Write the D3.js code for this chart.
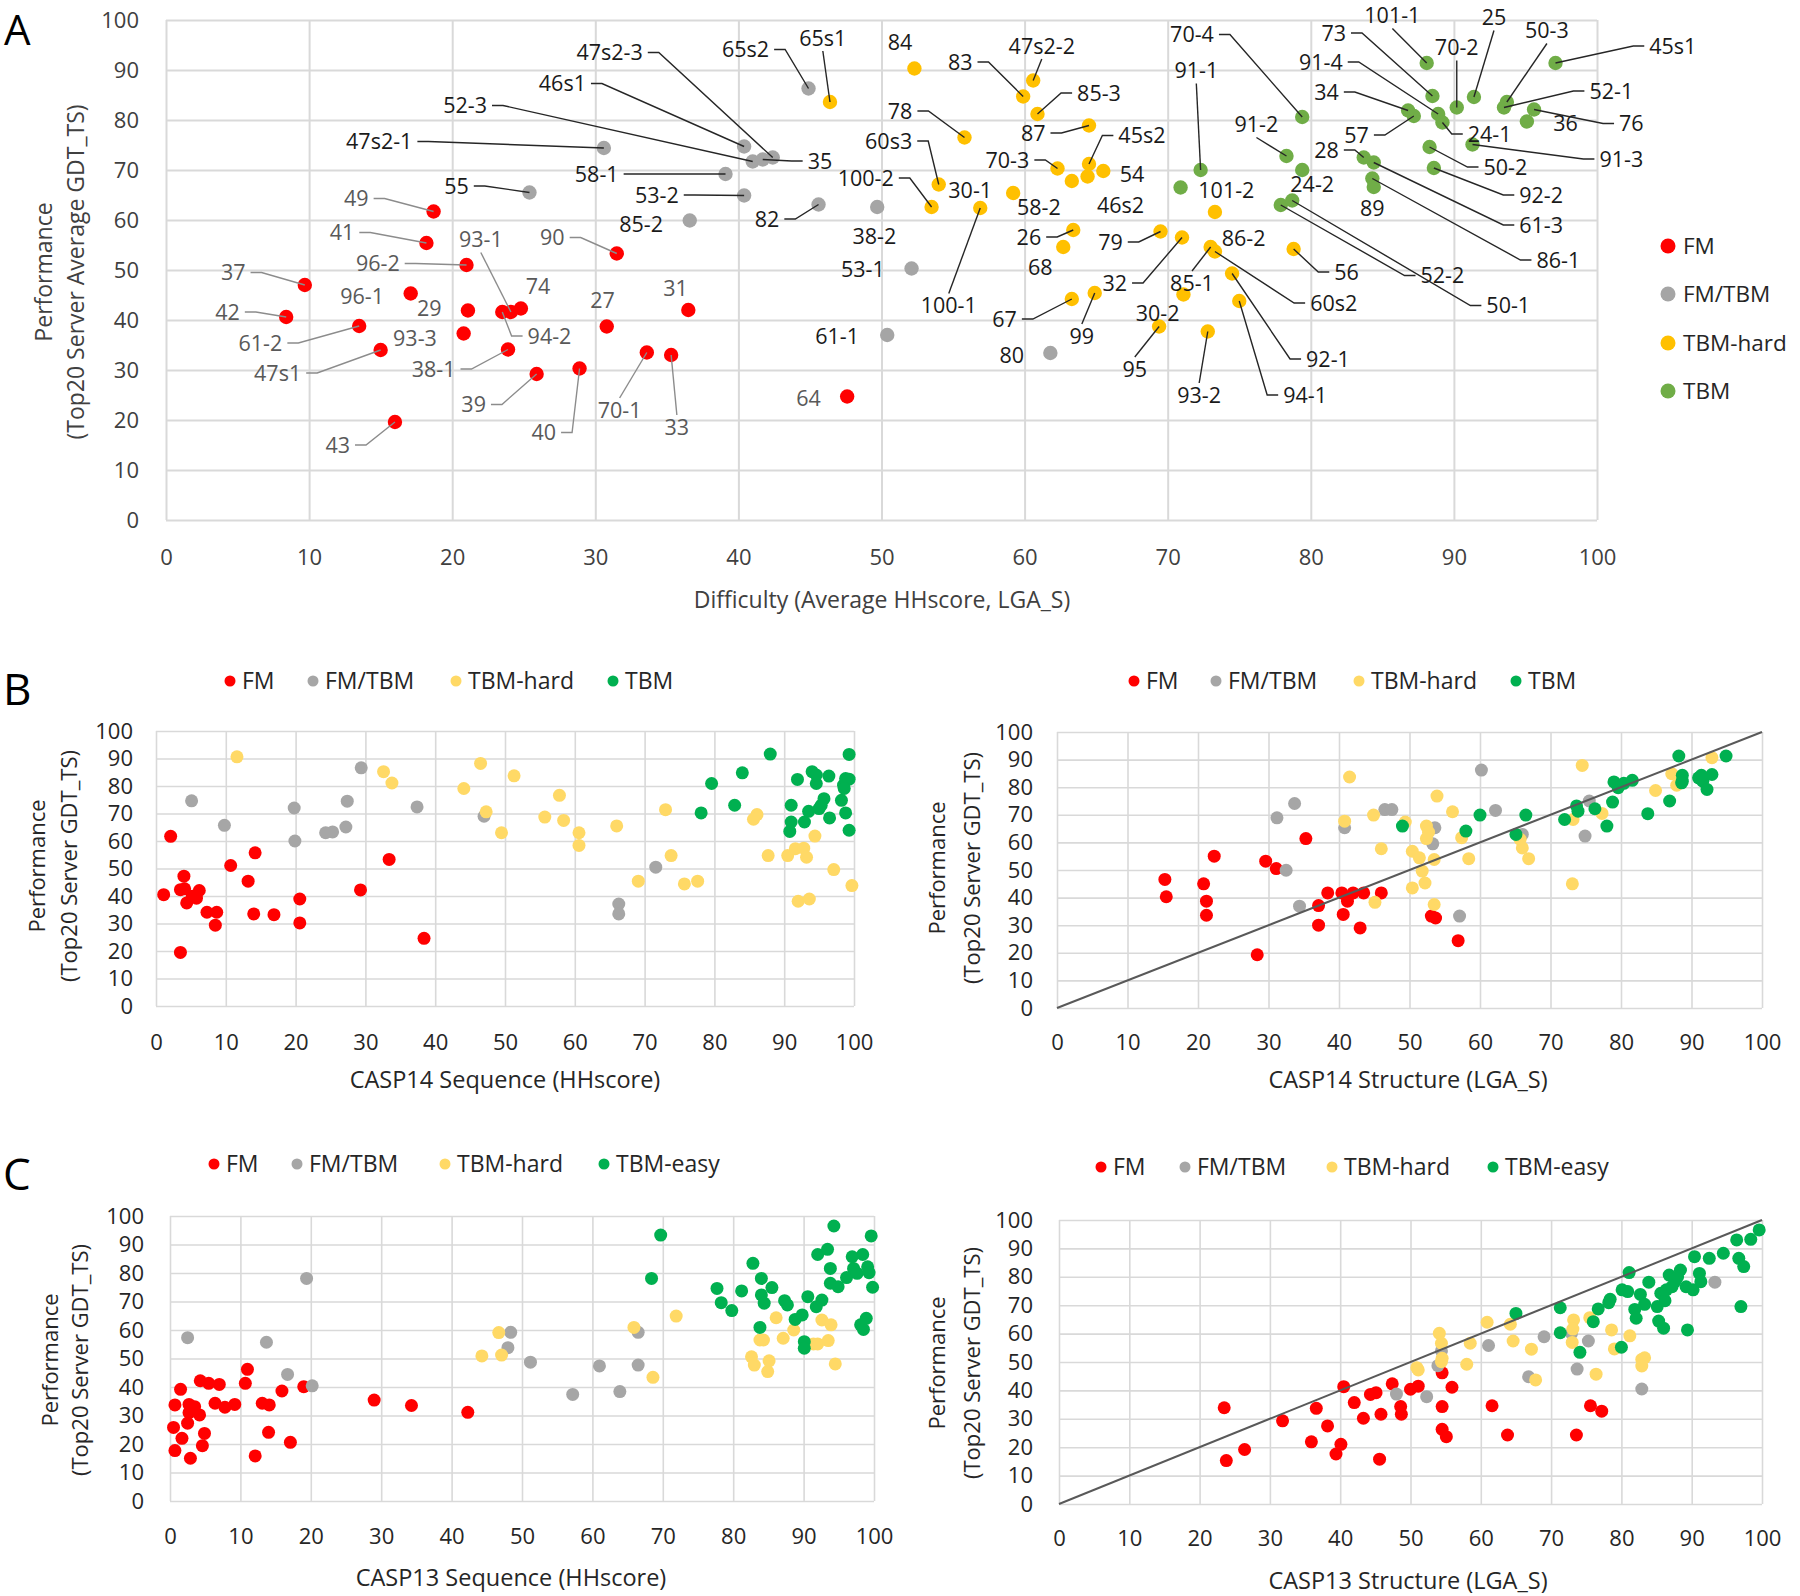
<!DOCTYPE html>
<html><head><meta charset="utf-8">
<script src="https://cdn.jsdelivr.net/npm/d3@7"></script>
<style>body{margin:0;background:#fff}svg{display:block}text{font-family:'Open Sans',sans-serif}</style>
</head><body>
<svg id="c" width="1800" height="1596"></svg>
<script>
// ---------- Panel A data ----------
const aNames = ["49","41","96-2","37","96-1","29","42","61-2","93-3","47s1","38-1","43","39","40","93-1","74","94-2","90","27","31","70-1","33","64",
"47s2-3","46s1","52-3","35","47s2-1","55","58-1","53-2","85-2","82","65s2","38-2","53-1","61-1","80",
"65s1","84","83","47s2-2","85-3","78","87","45s2","70-3","54","58-2","46s2","60s3","30-1","100-2","100-1","26","68","79","32","86-2","85-1","60s2","92-1","94-1","30-2","95","93-2","67","99","56",
"70-4","91-1","91-2","24-2","52-2","50-1","101-2","101-1","73","91-4","34","57","24-1","70-2","25","50-3","45s1","52-1","36","76","91-3","50-2","92-2","61-3","28","86-1","89"];
const aCat = [].concat(Array(23).fill(0),Array(15).fill(1),Array(31).fill(2),Array(27).fill(3));
const aX = [18.7,18.2,21.0,9.7,17.1,21.1,8.4,13.5,20.8,15.0,23.9,16.0,25.9,28.9,24.1,24.8,23.5,31.5,30.8,36.5,33.6,35.3,47.6,
42.4,40.4,41.0,41.7,30.6,25.4,39.1,40.4,36.6,45.6,44.9,49.7,52.1,50.4,61.8,
46.4,52.3,59.9,60.6,60.9,55.8,64.5,64.5,62.3,65.5,63.3,64.4,54.0,59.2,53.5,56.9,63.4,62.7,69.5,71.0,73.3,73.0,73.3,74.5,75.0,71.1,69.4,72.8,63.3,64.9,78.8,
79.4,72.3,78.3,79.4,77.9,78.7,70.9,88.1,88.5,88.9,86.8,87.2,89.2,90.2,91.4,93.7,97.1,93.5,95.1,95.6,91.3,88.3,88.6,84.4,83.7,84.3,84.4];
const aY = [61.7,55.4,51.0,47.0,45.3,41.9,40.6,38.8,37.3,34.0,34.1,19.6,29.2,30.3,41.6,42.3,41.6,53.3,38.7,42.0,33.5,33.0,24.7,
72.5,74.7,71.7,72.1,74.4,65.5,69.2,64.9,59.9,63.1,86.3,62.6,50.3,37.0,33.4,
83.6,90.3,84.7,87.9,81.2,76.5,78.9,71.2,70.3,69.8,67.8,68.7,67.1,65.4,62.6,62.4,58.0,54.6,57.7,56.5,61.6,54.6,53.7,49.3,43.8,45.1,38.7,37.7,44.2,45.4,54.2,
80.6,70.0,72.8,70.0,63.0,63.9,66.5,91.4,84.8,81.2,81.9,80.8,79.5,82.5,84.6,83.6,91.4,82.5,79.7,82.1,75.1,74.6,70.4,71.5,72.5,68.3,66.6];
// label anchor (data units) and leader side
const aLabelX = [13.3,12.3,14.8,4.7,13.7,18.4,4.3,6.6,17.4,7.8,18.7,12.0,21.5,26.4,22.0,26.0,26.8,27.0,30.5,35.6,31.7,35.7,44.9,
31.0,27.7,20.9,45.7,14.9,20.3,30.1,34.3,33.2,42.0,40.5,49.5,48.7,46.9,59.1,
45.9,51.3,55.5,61.2,65.2,51.3,60.6,68.2,58.8,67.5,61.0,66.7,50.5,56.2,48.9,54.7,60.3,61.1,66.0,66.3,75.3,71.7,81.6,81.2,79.6,69.3,67.7,72.2,58.6,64.0,82.5,
71.7,72.0,76.2,80.1,89.2,93.8,74.1,85.7,81.6,80.7,81.1,83.2,92.5,90.2,92.8,96.5,105.3,101.0,97.8,102.4,101.7,93.6,96.1,96.1,81.1,97.3,84.3];
const aLabelY = [64.3,57.5,51.3,49.5,44.7,42.3,41.6,35.4,36.3,29.4,30.2,15.0,23.1,17.5,56.1,46.7,36.8,56.5,44.0,46.3,22.0,18.6,24.3,
93.5,87.3,82.9,71.8,75.7,66.8,69.2,65.0,59.2,60.2,94.1,56.8,50.1,36.8,33.0,
96.4,95.6,91.6,94.8,85.4,81.8,77.4,76.9,72.0,69.2,62.6,63.0,75.8,66.0,68.4,42.9,56.6,50.6,55.6,47.4,56.3,47.4,43.4,32.2,25.0,41.3,30.2,25.0,40.2,36.8,49.6,
97.1,89.9,79.1,67.1,48.9,42.9,66.0,100.9,97.4,91.6,85.6,77.0,77.2,94.5,100.5,97.9,94.8,85.8,79.3,79.3,72.2,70.6,65.0,59.0,74.0,52.0,62.4];
const aLeader = ["r","r","r","r","","","r","r","","r","r","r","r","r","b","","l","r","","","t","t","",
"r","r","r","l","r","r","r","r","","r","r","","","","",
"b","","r","b","l","r","r","l","r","","","","r","","r","t","r","","r","r","","t","l","l","l","","t","t","r","t","l",
"r","b","b","","l","l","","b","r","r","r","r","l","b","b","b","l","l","","l","l","l","l","l","r","l",""];
const aCategories = ["FM","FM/TBM","TBM-hard","TBM"];

// ---------- Panel B: CASP14 ----------
const casp14SeqFM = [[1.1,40.5],[2.1,61.7],[4.0,47.2],[3.5,42.3],[4.4,37.5],[5.8,39.2],[6.2,42.0],[7.3,34.1],[8.7,34.1],[8.5,29.4],[10.7,51.1],[13.2,45.4],[14.2,55.7],[14.0,33.5],[16.9,33.2],[20.6,38.9],[20.6,30.2],[3.5,19.5],[29.3,42.2],[33.4,53.3],[38.4,24.6],[5.2,39.9],[4.1,42.6]];
const casp14SeqFMTBM = [[5.1,74.6],[9.8,65.7],[19.8,72.0],[19.9,60.0],[24.3,63.0],[25.3,63.3],[27.2,65.1],[27.4,74.5],[29.4,86.6],[37.4,72.4],[47.0,69.0],[71.6,50.5],[66.3,37.1],[66.3,33.5]];
const casp14SeqHard = [[11.6,90.6],[32.6,85.2],[33.8,81.1],[44.1,79.1],[46.5,88.2],[47.3,70.6],[49.5,63.0],[51.3,83.7],[55.7,68.7],[57.8,76.6],[58.4,67.5],[60.6,63.0],[60.6,58.4],[66.0,65.5],[69.1,45.4],[73.0,71.4],[73.8,54.7],[75.7,44.4],[77.6,45.4],[86.1,69.6],[85.6,67.9],[87.7,54.7],[90.5,54.7],[91.6,57.2],[92.8,57.4],[93.2,54.1],[94.4,61.8],[92.0,38.1],[93.6,38.9],[97.1,49.6],[99.7,43.8]];
const casp14SeqTBM = [[78.1,70.2],[79.6,80.9],[82.9,73.0],[84.0,84.8],[88.0,91.6],[91.0,73.0],[91.0,66.9],[90.8,63.5],[91.9,82.4],[92.9,66.9],[93.5,70.8],[94.0,85.2],[94.6,80.9],[95.0,71.8],[95.7,75.4],[96.4,83.6],[96.5,68.4],[98.2,74.8],[98.5,80.3],[98.8,82.7],[98.8,70.2],[99.3,91.5],[99.3,63.9],[99.3,82.5],[95.3,73.0],[94.6,84.0],[98.6,79.1]];
const casp14StrFM = [[15.3,46.6],[15.5,40.3],[20.8,45.0],[21.2,38.7],[21.2,33.6],[22.3,55.0],[28.4,19.3],[29.6,53.2],[31.1,50.5],[35.3,61.4],[37.1,37.1],[37.1,30.0],[38.4,41.7],[40.4,41.7],[41.2,38.7],[40.6,33.9],[42.0,41.7],[43.5,41.7],[43.0,29.0],[46.0,41.7],[53.1,33.3],[53.7,32.6],[56.9,24.4]];
const casp14StrFMTBM = [[31.2,68.9],[32.5,49.9],[33.7,74.1],[34.4,36.9],[40.8,65.3],[46.5,71.9],[47.5,71.9],[53.6,65.3],[53.3,59.5],[57.1,33.3],[60.2,86.2],[62.2,71.6],[66.0,62.9],[74.9,62.3],[75.5,75.0]];
const casp14StrHard = [[41.5,83.7],[40.8,67.7],[44.9,69.9],[45.1,38.3],[46.0,57.7],[49.4,67.4],[50.4,56.8],[50.4,43.5],[51.4,54.4],[51.8,49.6],[52.2,45.3],[52.4,65.9],[52.4,61.4],[52.7,63.7],[53.5,53.8],[53.5,37.5],[53.9,76.8],[56.1,71.1],[57.4,61.7],[58.4,54.1],[66.0,58.0],[66.9,54.1],[73.1,45.0],[73.2,68.3],[74.5,87.9],[77.3,70.5],[84.9,78.8],[87.2,84.9],[87.9,80.7],[92.9,90.7],[65.7,61.1]];
const casp14StrTBM = [[49.0,65.9],[58.0,64.1],[60.0,69.9],[65.1,62.9],[66.5,69.9],[72.0,68.3],[73.7,73.2],[73.9,71.3],[76.3,72.2],[78.0,65.9],[78.8,74.6],[79.0,81.9],[79.6,79.8],[80.4,81.4],[81.6,82.5],[83.8,70.4],[86.9,75.0],[88.2,91.3],[88.7,84.3],[88.7,82.2],[91.0,83.4],[91.6,82.2],[92.2,79.2],[92.9,84.6],[94.9,91.3],[88.6,81.6],[91.4,84.3]];

// ---------- Panel C: CASP13 ----------
const casp13SeqFM = [[0.7,33.7],[0.5,25.8],[0.7,17.7],[1.7,22.0],[1.5,39.2],[2.7,33.9],[2.7,31.0],[2.9,15.0],[2.5,27.3],[4.3,42.2],[4.2,30.2],[4.9,23.7],[4.6,19.4],[5.5,41.3],[6.4,34.3],[7.0,40.9],[7.8,32.9],[9.2,33.9],[10.7,41.3],[11.0,46.2],[12.1,15.8],[13.1,34.3],[14.1,33.7],[14.0,24.1],[15.9,38.6],[17.1,20.6],[19.0,40.1],[29.0,35.4],[34.3,33.5],[42.3,31.1],[3.5,33.1]];
const casp13SeqFMTBM = [[2.5,57.3],[13.7,55.7],[16.7,44.4],[19.4,78.1],[20.2,40.4],[48.0,53.8],[48.4,59.2],[51.2,48.7],[57.2,37.4],[61.0,47.4],[63.9,38.4],[66.5,59.2],[66.5,47.7]];
const casp13SeqHard = [[44.3,50.9],[46.7,59.1],[47.1,51.2],[65.9,60.9],[68.6,43.4],[71.9,64.9],[82.6,50.6],[83.0,47.7],[83.8,56.5],[84.3,56.5],[84.9,45.4],[85.1,49.2],[86.1,64.3],[87.1,57.1],[88.6,60.0],[91.4,55.1],[92.0,55.1],[92.6,63.5],[93.5,56.3],[93.9,61.8],[94.5,48.1]];
const casp13SeqEasy = [[69.7,93.3],[68.4,78.1],[77.7,74.6],[78.3,69.6],[79.8,66.8],[81.2,73.7],[82.8,83.4],[84.0,78.1],[84.0,72.3],[84.4,69.4],[83.8,60.9],[85.5,74.9],[87.3,70.3],[87.7,68.8],[88.8,63.7],[89.8,65.3],[90.1,55.9],[90.1,53.6],[90.6,71.7],[91.8,68.2],[92.0,86.5],[92.6,70.5],[93.4,88.3],[93.8,81.6],[93.8,76.4],[94.3,96.5],[94.9,75.2],[96.1,78.4],[96.9,85.7],[97.1,81.6],[97.6,79.9],[98.1,61.8],[98.4,86.5],[98.5,60.2],[98.9,64.1],[99.1,82.2],[99.3,80.1],[99.6,93.0],[99.8,75.0]];
const casp13StrFM = [[23.5,33.9],[23.8,15.3],[26.4,19.2],[31.8,29.3],[35.9,21.9],[36.6,33.7],[38.2,27.5],[39.4,17.6],[40.1,21.0],[40.5,41.3],[42.0,35.7],[43.3,30.2],[44.3,38.6],[45.1,39.2],[45.8,31.6],[45.6,15.8],[47.4,42.3],[48.6,34.3],[48.7,31.6],[50.0,40.4],[51.1,41.5],[54.5,46.2],[54.5,34.3],[54.5,26.3],[55.1,23.7],[55.9,41.1],[61.6,34.6],[63.8,24.3],[73.6,24.3],[75.6,34.6],[77.2,32.7]];
const casp13StrFMTBM = [[48.0,38.7],[52.3,37.8],[53.9,48.7],[54.4,53.9],[61.1,55.8],[66.8,44.8],[69.0,58.9],[73.7,47.5],[75.3,57.4],[82.9,40.5],[93.3,78.1],[72.9,60.1]];
const casp13StrHard = [[50.9,48.0],[51.1,47.2],[54.1,60.1],[54.4,56.6],[54.4,50.1],[54.5,51.3],[58.0,49.2],[58.5,56.6],[60.9,64.0],[64.2,63.3],[64.6,57.4],[67.2,54.5],[67.8,43.7],[73.0,56.9],[73.2,64.8],[73.1,61.6],[75.5,65.6],[76.4,45.7],[78.6,61.3],[79.0,54.6],[81.2,59.2],[82.9,50.9],[82.9,48.6],[83.3,51.5]];
const casp13StrEasy = [[65.0,67.1],[71.3,69.1],[71.3,60.3],[74.1,53.4],[76.0,64.2],[76.7,68.7],[78.2,70.9],[78.4,72.1],[80.0,55.2],[80.1,75.4],[80.9,74.8],[81.1,81.5],[81.9,68.5],[82.1,65.4],[82.7,73.8],[83.3,70.3],[83.9,78.1],[85.1,69.5],[85.3,64.4],[85.6,74.2],[86.0,61.9],[86.2,71.6],[86.4,75.4],[86.8,80.6],[87.2,76.5],[87.6,78.3],[88.0,80.0],[88.4,82.4],[89.2,76.5],[89.4,61.3],[90.2,75.4],[90.4,87.1],[91.1,81.2],[91.3,78.3],[92.5,86.5],[94.5,88.3],[96.4,93.0],[96.7,86.5],[97.0,69.5],[97.4,83.6],[98.4,93.2],[99.6,96.5]];

const tickValues = [0,10,20,30,40,50,60,70,80,90,100];
const legend14 = ["FM","FM/TBM","TBM-hard","TBM"];
const legend13 = ["FM","FM/TBM","TBM-hard","TBM-easy"];

// ---------- drawing ----------
const svg = d3.select('#c');
const FONT = "'Open Sans', sans-serif";

function frame(o){
  const x = d3.scaleLinear().domain([0,100]).range([o.x0,o.x1]);
  const y = d3.scaleLinear().domain([0,100]).range([o.yb,o.yt]);
  const g = svg.append('g');
  const clean = s => { s.select('.domain').remove(); s.selectAll('line').attr('stroke','#d9d9d9').attr('stroke-width',o.gw); };
  g.append('g').attr('transform',`translate(0,${o.yb})`)
    .call(d3.axisBottom(x).tickValues(tickValues).tickSize(-(o.yb-o.yt)).tickFormat('')).call(clean);
  g.append('g').attr('transform',`translate(${o.x0},0)`)
    .call(d3.axisLeft(y).tickValues(tickValues).tickSize(-(o.x1-o.x0)).tickFormat('')).call(clean);
  const lab = s => { s.select('.domain').remove(); s.selectAll('line').remove();
    s.selectAll('text').attr('font-size',o.fs).attr('font-family',FONT).attr('fill',o.tc); };
  g.append('g').attr('transform',`translate(0,${o.yb})`)
    .call(d3.axisBottom(x).tickValues(tickValues).tickSize(0).tickPadding(o.xpad)).call(lab);
  g.append('g').attr('transform',`translate(${o.x0},0)`)
    .call(d3.axisLeft(y).tickValues(tickValues).tickSize(0).tickPadding(o.ypad)).call(lab);
  g.append('text').attr('x',o.xtX).attr('y',o.xtY).attr('text-anchor','middle').attr('dy','0.35em')
    .attr('font-size',o.tfs).attr('fill',o.tc).text(o.xTitle);
  o.yTitle.forEach((t,i)=>{
    g.append('text').attr('transform',`translate(${o.ytX[i]},${o.ytY}) rotate(-90)`).attr('text-anchor','middle')
      .attr('dy','0.35em').attr('font-size',o.ytfs||o.tfs).attr('fill',o.tc).text(t);
  });
  return {x,y,g};
}

// ---- Panel A ----
const colA = ["#ff0000","#a5a5a5","#ffc000","#70ad47"];
const A = frame({x0:166,x1:1597,yb:520,yt:20,gw:2,fs:22,tc:'#404040',xpad:29,ypad:27,
  xTitle:'Difficulty (Average HHscore, LGA_S)',xtX:882,xtY:600,tfs:23,
  yTitle:['Performance','(Top20 Server Average GDT_TS)'],ytX:[44,76],ytY:272});
const aRows = aNames.map((n,i)=>({n,c:aCat[i],x:aX[i],y:aY[i],lx:aLabelX[i],ly:aLabelY[i],s:aLeader[i]}));
A.g.append('g').selectAll('circle').data(aRows).join('circle')
  .attr('cx',d=>A.x(d.x)).attr('cy',d=>A.y(d.y)).attr('r',7.2).attr('fill',d=>colA[d.c]);
const labG = A.g.append('g');
const leadG = A.g.append('g');
const LFS = 21.5;
aRows.forEach(d=>{
  const cx = A.x(d.lx), cy = A.y(d.ly);
  const t = labG.append('text').attr('x',cx).attr('y',cy).attr('dy','0.35em').attr('text-anchor','middle')
    .attr('font-size',LFS).attr('fill',d.c===0?'#595959':'#1a1a1a').text(d.n);
  if(!d.s) return;
  const w = t.node().getComputedTextLength();
  const px = A.x(d.x), py = A.y(d.y);
  let p;
  if(d.s==='r'){ const sx = cx + w/2 + 5; p = `M${sx},${cy}h11L${px},${py}`; }
  else if(d.s==='l'){ const sx = cx - w/2 - 5; p = `M${sx},${cy}h-11L${px},${py}`; }
  else if(d.s==='t'){ p = `M${cx},${cy-12}L${px},${py}`; }
  else { p = `M${cx},${cy+13}L${px},${py}`; }
  leadG.append('path').attr('d',p).attr('fill','none')
    .attr('stroke',d.c===0?'#8c8c8c':'#262626').attr('stroke-width',1.4);
});
const legA = A.g.append('g');
aCategories.forEach((c,i)=>{
  const ly = [246,294,343,391][i];
  legA.append('circle').attr('cx',1668).attr('cy',ly).attr('r',7.5).attr('fill',colA[i]);
  legA.append('text').attr('x',1683).attr('y',ly).attr('dy','0.35em').attr('font-size',22.5).attr('fill','#262626').text(c);
});
svg.append('text').attr('x',4).attr('y',45).attr('font-size',42).attr('fill','#000').text('A');

// ---- Panels B / C ----
const colB = ["#ff0000","#a6a6a6","#ffd966","#00b050"];
function small(o, series, names, legX, legY, diag){
  const P = frame(Object.assign({gw:1.6,fs:22,tc:'#262626',tfs:23.5,ytfs:22},o));
  series.forEach((s,k)=>{
    P.g.append('g').selectAll('circle').data(s).join('circle')
      .attr('cx',d=>P.x(d[0])).attr('cy',d=>P.y(d[1])).attr('r',6.5).attr('fill',colB[k]);
  });
  if(diag){
    P.g.append('line').attr('x1',P.x(0)).attr('y1',P.y(0)).attr('x2',P.x(100)).attr('y2',P.y(100))
      .attr('stroke','#595959').attr('stroke-width',2);
  }
  names.forEach((n,i)=>{
    P.g.append('circle').attr('cx',legX[i]).attr('cy',legY).attr('r',5.5).attr('fill',colB[i]);
    P.g.append('text').attr('x',legX[i]+12).attr('y',legY).attr('dy','0.35em').attr('font-size',23).attr('fill','#262626').text(n);
  });
}
small({x0:156,x1:854,yb:1006,yt:731,xpad:28,ypad:23,xTitle:'CASP14 Sequence (HHscore)',xtX:505,xtY:1080,
  yTitle:['Performance','(Top20 Server  GDT_TS)'],ytX:[37,69],ytY:866},
  [casp14SeqFM,casp14SeqFMTBM,casp14SeqHard,casp14SeqTBM],legend14,[230,313,456,613],681,false);
small({x0:1057,x1:1762,yb:1008,yt:732,xpad:26,ypad:24,xTitle:'CASP14 Structure (LGA_S)',xtX:1408,xtY:1080,
  yTitle:['Performance','(Top20 Server  GDT_TS)'],ytX:[937,972],ytY:868},
  [casp14StrFM,casp14StrFMTBM,casp14StrHard,casp14StrTBM],legend14,[1134,1216,1359,1516],681,true);
small({x0:170,x1:874,yb:1501,yt:1216,xpad:27,ypad:26,xTitle:'CASP13 Sequence (HHscore)',xtX:511,xtY:1578,
  yTitle:['Performance','(Top20 Server GDT_TS)'],ytX:[50,80],ytY:1360},
  [casp13SeqFM,casp13SeqFMTBM,casp13SeqHard,casp13SeqEasy],legend13,[214,297,445,604],1164,false);
small({x0:1059,x1:1762,yb:1504,yt:1220,xpad:26,ypad:26,xTitle:'CASP13 Structure (LGA_S)',xtX:1408,xtY:1581,
  yTitle:['Performance','(Top20 Server GDT_TS)'],ytX:[937,972],ytY:1363},
  [casp13StrFM,casp13StrFMTBM,casp13StrHard,casp13StrEasy],legend13,[1101,1185,1332,1493],1167,true);
svg.append('text').attr('x',3).attr('y',705).attr('font-size',44).attr('fill','#000').text('B');
svg.append('text').attr('x',3).attr('y',1190).attr('font-size',44).attr('fill','#000').text('C');
</script>
</body></html>
